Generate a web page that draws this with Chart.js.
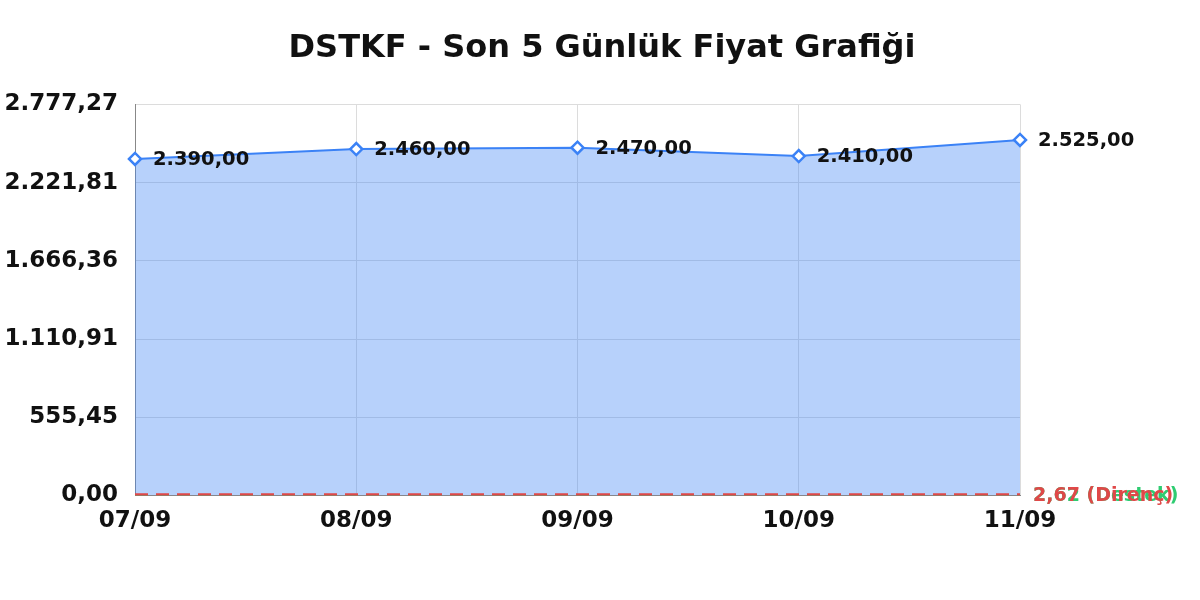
<!DOCTYPE html>
<html>
<head>
<meta charset="utf-8">
<script src="https://cdn.jsdelivr.net/npm/chart.js@4/dist/chart.umd.min.js"></script>
<style>
  html, body { margin: 0; padding: 0; background: #fff; }
  #wrap { width: 1200px; height: 600px; }
</style>
</head>
<body>
<div id="wrap"><canvas id="graph" width="1200" height="600"></canvas></div>
<script>
var title_text = 'DSTKF - Son 5 Günlük Fiyat Grafiği';
var date_labels = ['07/09', '08/09', '09/09', '10/09', '11/09'];
var price_data = [2390, 2460, 2470, 2410, 2525];
var destek_value = 2.62;
var direnc_value = 2.67;
var y_max = 2777.266;

function tr_number(v){
    return Number(v).toLocaleString('tr-TR', {minimumFractionDigits: 2, maximumFractionDigits: 2});
}

function flat_line(v){
    return date_labels.map(function(){ return v; });
}

// value labels next to the points, names at the end of the dashed lines
var label_plugin = {
    id: 'point_labels',
    afterDatasetsDraw: function(chart){
        var ctx = chart.ctx;
        ctx.save();
        ctx.textBaseline = 'middle';
        ctx.textAlign = 'left';
        chart.data.datasets.forEach(function(ds, i){
            var meta = chart.getDatasetMeta(i);
            if (ds.label_mode == 'points'){
                ctx.font = 'bold 19.5px "DejaVu Sans"';
                ctx.fillStyle = '#111';
                meta.data.forEach(function(pt, j){
                    ctx.fillText(tr_number(ds.data[j]), pt.x + 18, pt.y + 1);
                });
            } else if (ds.label_mode == 'end'){
                var last = meta.data[meta.data.length - 1];
                ctx.font = 'bold 19px "DejaVu Sans"';
                ctx.fillStyle = ds.label_color;
                ctx.fillText(tr_number(ds.data[ds.data.length - 1]) + ' (' + ds.label + ')', last.x + 13, last.y + 1);
            }
        });
        ctx.restore();
    }
};

var chart_context = document.getElementById('graph').getContext('2d');
var chart = new Chart(chart_context, {
    type: 'line',
    data: {
        labels: date_labels,
        datasets: [{
            label: 'Fiyat',
            data: price_data,
            label_mode: 'points',
            borderColor: '#3b82f6',
            backgroundColor: 'rgba(66,133,244,0.38)',
            borderWidth: 2,
            fill: 'origin',
            tension: 0,
            pointStyle: 'rectRot',
            pointRadius: 6,
            pointBorderWidth: 2.5,
            pointBackgroundColor: '#fff',
            pointBorderColor: '#3b82f6',
            order: 3
        }, {
            label: 'Destek',
            data: flat_line(destek_value),
            label_mode: 'end',
            label_color: '#2ecc71',
            borderColor: '#2ecc71',
            borderWidth: 2,
            borderDash: [13, 8],
            pointRadius: 0,
            fill: false,
            order: 2
        }, {
            label: 'Direnç',
            data: flat_line(direnc_value),
            label_mode: 'end',
            label_color: '#e04848',
            borderColor: '#e04848',
            borderWidth: 3.5,
            borderDash: [13, 8],
            pointRadius: 0,
            fill: false,
            order: 1
        }]
    },
    options: {
        responsive: false,
        animation: false,
        layout: { padding: { left: 4, right: 0, top: 0, bottom: 53 } },
        plugins: {
            legend: { display: false },
            tooltip: { enabled: false },
            title: {
                display: true,
                text: title_text,
                color: '#111',
                font: { family: 'DejaVu Sans', size: 32, weight: 'bold' },
                padding: { top: 29, bottom: 37 }
            }
        },
        scales: {
            x: {
                offset: false,
                grid: { color: '#dcdcdc', drawTicks: false },
                border: { color: '#888' },
                ticks: {
                    color: '#111',
                    padding: 12,
                    maxRotation: 0,
                    font: { family: 'DejaVu Sans', size: 23, weight: 'bold' }
                }
            },
            y: {
                min: 0,
                max: y_max,
                grid: { color: '#dcdcdc', drawTicks: false },
                border: { color: '#888' },
                ticks: {
                    stepSize: y_max / 5,
                    color: '#111',
                    padding: 17,
                    font: { family: 'DejaVu Sans', size: 23, weight: 'bold' },
                    callback: function(v){ return tr_number(v); }
                },
                afterFit: function(scale){ scale.width = 131; }
            },
            // empty right axis, only keeps room for the line labels
            y_space: {
                position: 'right',
                min: 0,
                max: y_max,
                grid: { display: false },
                border: { display: false },
                ticks: { display: false },
                afterFit: function(scale){ scale.width = 180; }
            }
        }
    },
    plugins: [label_plugin]
});
</script>
</body>
</html>
